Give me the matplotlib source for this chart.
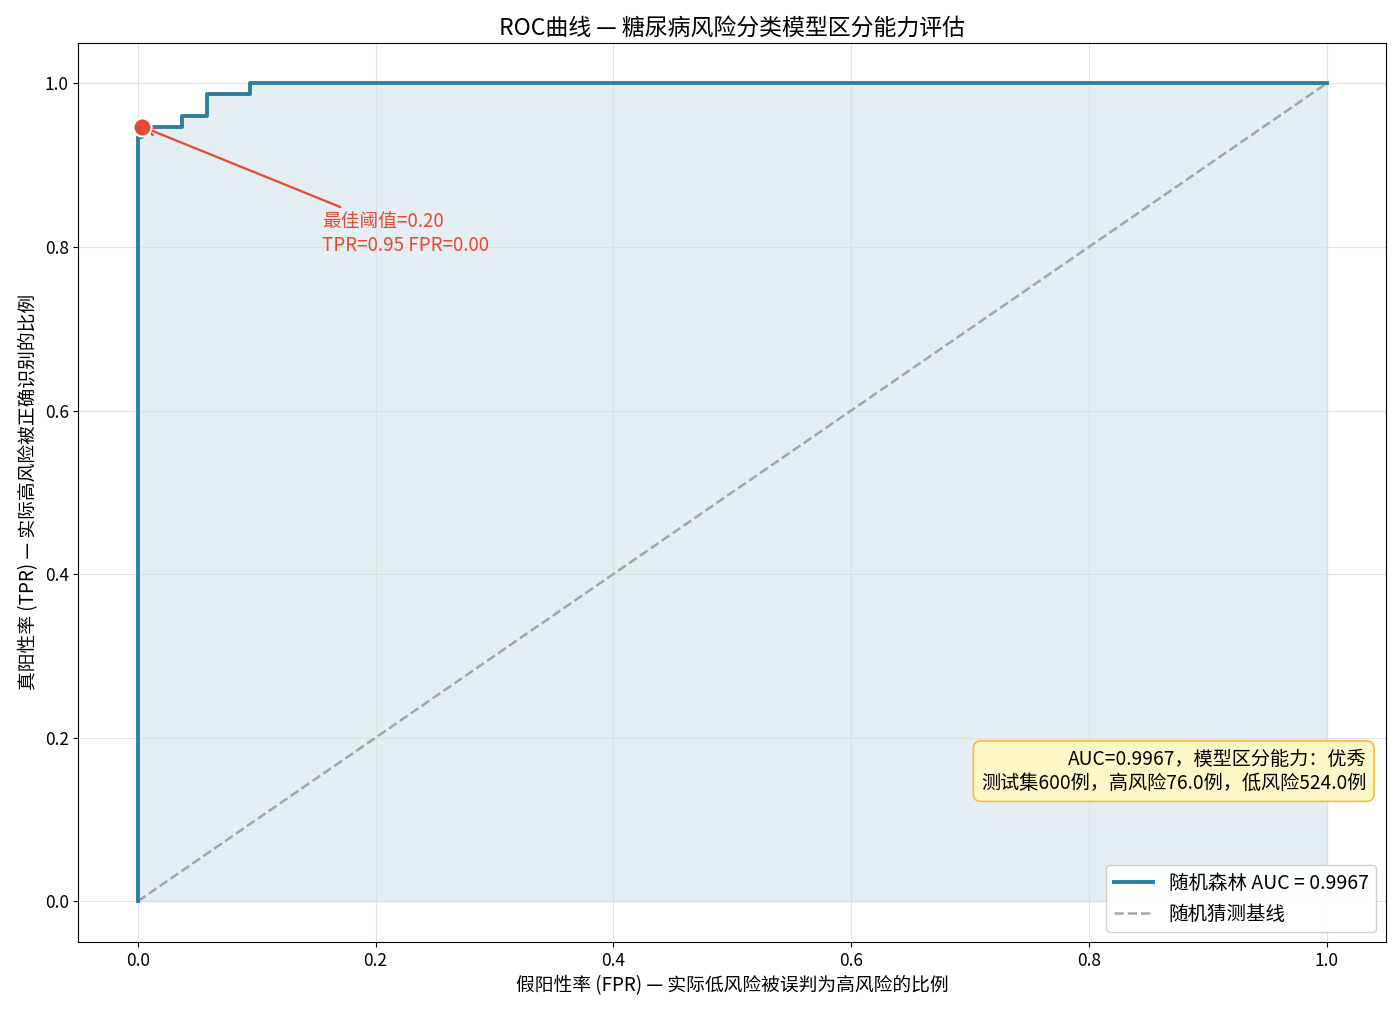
import matplotlib
matplotlib.use("Agg")
import matplotlib.pyplot as plt

plt.rcParams['font.family'] = ['Noto Sans CJK SC', 'DejaVu Sans']
plt.rcParams['axes.unicode_minus'] = False

fpr = [0.0, 0.0, 0.0038, 0.0038, 0.037, 0.037, 0.058, 0.058, 0.094, 0.094, 1.0]
tpr = [0.0, 0.934, 0.934, 0.947, 0.947, 0.96, 0.96, 0.987, 0.987, 1.0, 1.0]
best_fpr, best_tpr = 0.0038, 0.947
auc = 0.9967

fig, ax = plt.subplots(figsize=(14, 10.13), dpi=100)
ax.fill_between(fpr, tpr, color='#a9cbd9', alpha=0.3, zorder=1)
ax.plot(fpr, tpr, color='#2e7fa0', lw=2.8, label=f'随机森林 AUC = {auc:.4f}', zorder=3)
ax.plot([0, 1], [0, 1], ls='--', color='#a0a6a8', lw=1.8, label='随机猜测基线', zorder=2)
ax.scatter([best_fpr], [best_tpr], s=170, color='#e34a33', edgecolor='white', lw=1.5, zorder=5)
ax.annotate('最佳阈值=0.20\nTPR=0.95 FPR=0.00', xy=(best_fpr, best_tpr),
            xytext=(0.155, 0.795), color='#e34a33', fontsize=13.5, linespacing=1.2,
            arrowprops=dict(arrowstyle='->', color='#e34a33', lw=1.6))
ax.text(0.985, 0.19, 'AUC=0.9967，模型区分能力：优秀\n测试集600例，高风险76.0例，低风险524.0例',
        transform=ax.transAxes, ha='right', va='center', fontsize=13.8, linespacing=1.2,
        bbox=dict(boxstyle='round,pad=0.4', fc='#fdf7c8', ec='#f5b942', lw=1.2))
ax.set_xlim(-0.05, 1.05)
ax.set_ylim(-0.05, 1.05)
ax.set_xticks([0, 0.2, 0.4, 0.6, 0.8, 1.0])
ax.set_yticks([0, 0.2, 0.4, 0.6, 0.8, 1.0])
ax.tick_params(labelsize=12.5)
ax.grid(True, color='#dddddd', alpha=0.8, lw=0.8)
ax.set_xlabel('假阳性率 (FPR) — 实际低风险被误判为高风险的比例', fontsize=13.5)
ax.set_ylabel('真阳性率 (TPR) — 实际高风险被正确识别的比例', fontsize=13.5)
ax.set_title('ROC曲线 — 糖尿病风险分类模型区分能力评估', fontsize=16.5)
ax.legend(loc='lower right', fontsize=14, framealpha=0.9)
fig.subplots_adjust(left=0.056, right=0.99, top=0.958, bottom=0.07)
fig.savefig('out.png')
